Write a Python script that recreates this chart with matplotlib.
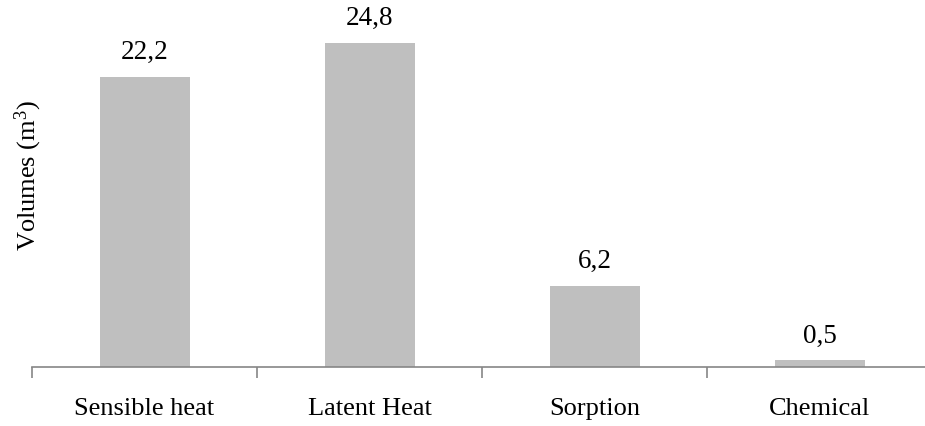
import matplotlib.pyplot as plt
from matplotlib.ticker import FixedLocator

plt.rcParams['font.family'] = ['Liberation Serif', 'DejaVu Serif']
plt.rcParams['mathtext.fontset'] = 'custom'
plt.rcParams['mathtext.rm'] = 'Liberation Serif'
plt.rcParams['mathtext.it'] = 'Liberation Serif:italic'

categories = ['Sensible heat', 'Latent Heat', 'Sorption', 'Chemical']
volumes = [22.2, 24.8, 6.2, 0.5]
value_labels = ['22,2', '24,8', '6,2', '0,5']

fig = plt.figure(figsize=(9.25, 4.26), dpi=100)
# axes spans 4 categories of 225 px each, starting at x=32, baseline at y=367
ax = fig.add_axes([32 / 925, 59 / 426, 900 / 925, 26 * 13.06 / 426])

x = range(len(categories))
bars = ax.bar(x, volumes, width=0.4, color='#BFBFBF')
for b, lab in zip(bars, value_labels):
    ax.text(b.get_x() + b.get_width() / 2, b.get_height() + 0.9, lab,
            ha='center', va='bottom', fontsize=19.5)

ax.set_xlim(-0.5, 3.5)
ax.set_ylim(0, 26)
ax.set_xticks(list(x))
ax.set_xticklabels(categories, fontsize=19)
ax.tick_params(axis='x', which='major', length=0, pad=22)
ax.xaxis.set_minor_locator(FixedLocator([-0.5, 0.5, 1.5, 2.5, 3.5]))
ax.tick_params(axis='x', which='minor', length=8, width=1.2, color='#868686', direction='out')
ax.set_yticks([])

for s in ['top', 'right', 'left']:
    ax.spines[s].set_visible(False)
ax.spines['bottom'].set_color('#868686')
ax.spines['bottom'].set_linewidth(1.2)

ax.set_ylabel(r'Volumes (m$^{\mathrm{3}}$)', fontsize=19)
ax.yaxis.set_label_coords(0.013, 0.565)

fig.savefig('out.png', dpi=100)
